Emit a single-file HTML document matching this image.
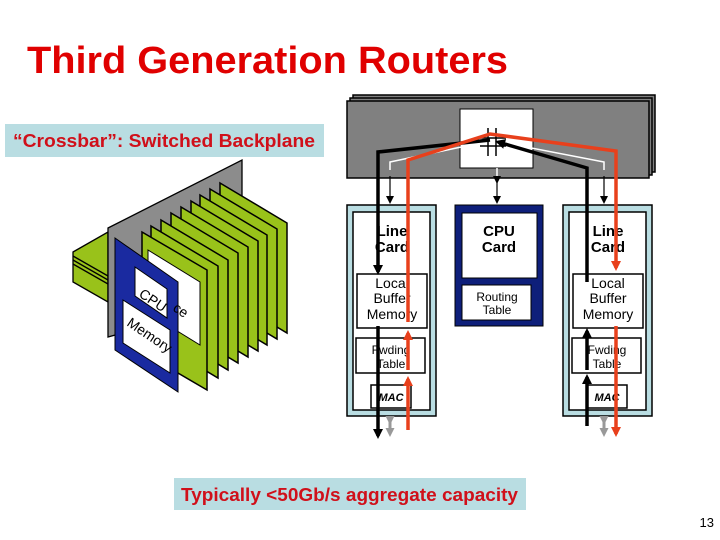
<!DOCTYPE html>
<html><head><meta charset="utf-8"><style>
html,body{margin:0;padding:0;background:#fff;}
body{width:720px;height:540px;overflow:hidden;position:relative;font-family:"Liberation Sans",Arial,sans-serif;}
</style></head><body>
<svg width="720" height="540" viewBox="0 0 720 540" xmlns="http://www.w3.org/2000/svg" style="position:absolute;left:0;top:0">
<defs>
<marker id="ab" markerWidth="10" markerHeight="10" refX="7" refY="5" orient="auto" markerUnits="userSpaceOnUse"><path d="M0,0 L10,5 L0,10 z" fill="#000"/></marker>
<marker id="ar" markerWidth="10" markerHeight="10" refX="7" refY="5" orient="auto" markerUnits="userSpaceOnUse"><path d="M0,0 L10,5 L0,10 z" fill="#e8401c"/></marker>
<marker id="at" markerWidth="8" markerHeight="8" refX="6" refY="4" orient="auto" markerUnits="userSpaceOnUse"><path d="M0,0 L8,4 L0,8 z" fill="#000"/></marker>
<marker id="ag" markerWidth="9" markerHeight="9" refX="6" refY="4.5" orient="auto" markerUnits="userSpaceOnUse"><path d="M0,0 L9,4.5 L0,9 z" fill="#999"/></marker>
</defs>
<text x="27" y="73" font-family="Liberation Sans, Arial, sans-serif" font-weight="bold" font-size="38" fill="#e00000" textLength="481" lengthAdjust="spacingAndGlyphs">Third Generation Routers</text>
<rect x="5" y="124" width="319" height="33" fill="#b9dde2"/>
<text x="13" y="147" font-family="Liberation Sans, Arial, sans-serif" font-weight="bold" font-size="18" fill="#d0101a" textLength="302" lengthAdjust="spacingAndGlyphs">“Crossbar”: Switched Backplane</text>

<!-- left 3D chassis -->
<g stroke="#000" stroke-width="1.3">
<polygon points="73,252 108,232 108,302 73,282" fill="#99c21a"/>
<polyline points="73,256 108,276" fill="none"/><polyline points="73,260 108,280" fill="none"/><polyline points="73,264 108,284" fill="none"/>
<polygon points="108,228 242,160 242,300 108,337" fill="#8c8c8c"/>
</g>
<g stroke="#000" stroke-width="1.5" fill="#99c21a">
<polygon points="220,183 287,223 287,333 220,293"/>
<polygon points="210,189 277,229 277,339 210,299"/>
<polygon points="200,195 267,235 267,345 200,305"/>
<polygon points="191,201 258,241 258,351 191,311"/>
<polygon points="181,207 248,247 248,357 181,317"/>
<polygon points="171,213 238,253 238,363 171,323"/>
<polygon points="161,220 228,260 228,370 161,330"/>
<polygon points="151,226 218,266 218,378 151,338"/>
<polygon points="142,232 207,270 207,390 142,352"/>
</g>
<polygon points="148,250 200,282 200,345 148,313" fill="#fff" stroke="#000"/>
<polygon points="115,238 178,282 178,392 115,350" fill="#1a2aa0" stroke="#000"/>
<polygon points="135,267 167,289 167,318 135,296" fill="#fff" stroke="#000"/>
<polygon points="123,300 170,330 170,373 123,343" fill="#fff" stroke="#000"/>
<text x="138" y="296" font-size="14" transform="rotate(34 138 296)" font-family="Liberation Sans, Arial, sans-serif">CPU</text>
<text x="172" y="310" font-size="14" transform="rotate(34 172 310)" font-family="Liberation Sans, Arial, sans-serif">ce</text>
<text x="126" y="325" font-size="14" transform="rotate(34 126 325)" font-family="Liberation Sans, Arial, sans-serif">Memory</text>

<!-- backplane -->
<rect x="353" y="95" width="302" height="77" fill="#808080" stroke="#000" stroke-width="1.5"/>
<rect x="350" y="98" width="302" height="77" fill="#808080" stroke="#000" stroke-width="1.5"/>
<rect x="347" y="101" width="302" height="77" fill="#808080" stroke="#000" stroke-width="1.5"/>
<rect x="460" y="109" width="73" height="59" fill="#fff" stroke="#000"/>
<g stroke="#000" stroke-width="1.5"><line x1="488" y1="128" x2="488" y2="156"/><line x1="496" y1="128" x2="496" y2="156"/><line x1="480" y1="138" x2="506" y2="138"/><line x1="480" y1="146" x2="506" y2="146"/></g>

<!-- line cards -->
<rect x="347" y="205" width="89" height="211" fill="#b9dde2" stroke="#000" stroke-width="1.5"/>
<rect x="353" y="212" width="77" height="198" fill="#fff" stroke="#000" stroke-width="1.5"/>
<rect x="357" y="274" width="70" height="54" fill="#fff" stroke="#000" stroke-width="1.5"/>
<rect x="356" y="338" width="69" height="35" fill="#fff" stroke="#000" stroke-width="1.5"/>
<rect x="371" y="385" width="40" height="23" fill="#fff" stroke="#000" stroke-width="1.5"/>
<rect x="563" y="205" width="89" height="211" fill="#b9dde2" stroke="#000" stroke-width="1.5"/>
<rect x="569" y="212" width="77" height="198" fill="#fff" stroke="#000" stroke-width="1.5"/>
<rect x="573" y="274" width="70" height="54" fill="#fff" stroke="#000" stroke-width="1.5"/>
<rect x="572" y="338" width="69" height="35" fill="#fff" stroke="#000" stroke-width="1.5"/>
<rect x="587" y="385" width="40" height="23" fill="#fff" stroke="#000" stroke-width="1.5"/>
<rect x="455" y="205" width="88" height="121" fill="#0e1f7a" stroke="#000"/>
<rect x="462" y="213" width="75" height="65" fill="#fff" stroke="#000"/>
<rect x="462" y="285" width="69" height="35" fill="#fff" stroke="#000"/>
<g font-family="Liberation Sans, Arial, sans-serif" text-anchor="middle">
<text x="392" y="236" font-size="15" font-weight="bold">Line</text>
<text x="392" y="252" font-size="15" font-weight="bold">Card</text>
<text x="608" y="236" font-size="15" font-weight="bold">Line</text>
<text x="608" y="252" font-size="15" font-weight="bold">Card</text>
<text x="499" y="236" font-size="15" font-weight="bold">CPU</text>
<text x="499" y="252" font-size="15" font-weight="bold">Card</text>
<text x="392" y="288" font-size="14">Local</text><text x="392" y="303" font-size="14">Buffer</text><text x="392" y="319" font-size="14">Memory</text>
<text x="608" y="288" font-size="14">Local</text><text x="608" y="303" font-size="14">Buffer</text><text x="608" y="319" font-size="14">Memory</text>
<text x="497" y="301" font-size="12">Routing</text><text x="497" y="314" font-size="12">Table</text>
<text x="391" y="354" font-size="12">Fwding</text><text x="391" y="368" font-size="12">Table</text>
<text x="607" y="354" font-size="12">Fwding</text><text x="607" y="368" font-size="12">Table</text>
<text x="391" y="401" font-size="11" font-weight="bold" font-style="italic">MAC</text>
<text x="607" y="401" font-size="11" font-weight="bold" font-style="italic">MAC</text>
</g>

<!-- thin white + control arrows -->
<g fill="none" stroke="#fff" stroke-width="1.5">
<polyline points="485,142 390,162 390,170"/><polyline points="500,142 604,162 604,170"/><line x1="497" y1="168" x2="497" y2="176"/>
</g>
<g stroke="#000" stroke-width="1.2">
<line x1="390" y1="176" x2="390" y2="202" marker-end="url(#at)"/>
<line x1="604" y1="176" x2="604" y2="202" marker-end="url(#at)"/>
<line x1="497" y1="182" x2="497" y2="202" marker-end="url(#at)" marker-start="url(#at)"/>
</g>

<!-- black path -->
<g fill="none" stroke="#000" stroke-width="3.5">
<polyline points="490,140 378,152 378,272" marker-end="url(#ab)"/>
<line x1="378" y1="326" x2="378" y2="436" marker-end="url(#ab)"/>
<polyline points="587,282 587,168 498,142" marker-end="url(#ab)"/>
<line x1="587" y1="426" x2="587" y2="377" marker-end="url(#ab)"/>
<line x1="587" y1="370" x2="587" y2="331" marker-end="url(#ab)"/>
</g>
<g fill="none" stroke="#e8401c" stroke-width="3.5">
<polyline points="408,322 408,160 490,134 616,151 616,268" marker-end="url(#ar)"/>
<line x1="408" y1="430" x2="408" y2="379" marker-end="url(#ar)"/>
<line x1="408" y1="370" x2="408" y2="333" marker-end="url(#ar)"/>
<line x1="616" y1="326" x2="616" y2="434" marker-end="url(#ar)"/>
</g>
<g stroke="#999" stroke-width="3">
<line x1="390" y1="422" x2="390" y2="434" marker-end="url(#ag)" marker-start="url(#ag)"/>
<line x1="604" y1="422" x2="604" y2="434" marker-end="url(#ag)" marker-start="url(#ag)"/>
</g>

<rect x="174" y="478" width="352" height="32" fill="#b9dde2"/>
<text x="181" y="501" font-family="Liberation Sans, Arial, sans-serif" font-weight="bold" font-size="18" fill="#d0101a" textLength="337" lengthAdjust="spacingAndGlyphs">Typically &lt;50Gb/s aggregate capacity</text>
<text x="714" y="527" text-anchor="end" font-family="Liberation Sans, Arial, sans-serif" font-size="13">13</text>
</svg>
</body></html>
